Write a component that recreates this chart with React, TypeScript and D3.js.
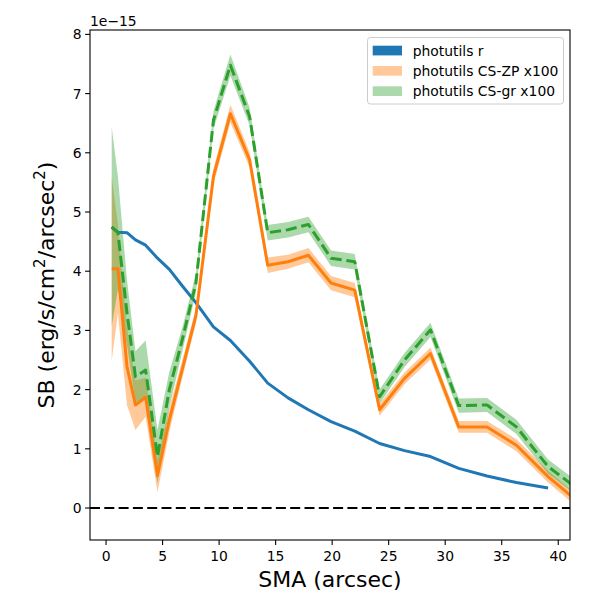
import * as d3 from "d3";

// SMA grid (arcsec) and surface brightness in units of 1e-15
const sma = [0.5, 1.05, 1.85, 2.6, 3.5, 4.55, 5.6, 6.75, 7.95, 9.5, 11.0, 12.7, 14.3, 16.1, 17.9, 19.9, 22.0, 24.2, 26.4, 28.7, 31.2, 33.7, 36.3, 39.1];
const smaCS = [...sma, 42.1];

const sbR = [4.74, 4.66, 4.65, 4.53, 4.44, 4.22, 4.03, 3.75, 3.47, 3.06, 2.83, 2.48, 2.11, 1.86, 1.66, 1.46, 1.30, 1.09, 0.97, 0.87, 0.67, 0.54, 0.43, 0.34];

const sbZP = [4.04, 4.04, 2.39, 1.74, 1.87, 0.55, 1.49, 2.35, 3.25, 5.6, 6.66, 5.88, 4.10, 4.16, 4.27, 3.80, 3.68, 1.66, 2.19, 2.61, 1.37, 1.37, 1.06, 0.53, 0.05];
const errZP = [1.55, 0.75, 0.65, 0.42, 0.33, 0.28, 0.2, 0.15, 0.13, 0.13, 0.15, 0.13, 0.13, 0.12, 0.12, 0.12, 0.12, 0.1, 0.1, 0.1, 0.1, 0.1, 0.1, 0.1, 0.1];

const sbGR = [4.75, 4.65, 3.3, 2.22, 2.33, 0.87, 2.0, 2.85, 3.8, 6.55, 7.48, 6.61, 4.65, 4.70, 4.79, 4.22, 4.16, 1.88, 2.5, 3.01, 1.73, 1.74, 1.37, 0.70, 0.27];
const errGR = [1.68, 0.95, 0.55, 0.43, 0.5, 0.45, 0.3, 0.2, 0.16, 0.15, 0.18, 0.15, 0.13, 0.13, 0.13, 0.13, 0.13, 0.12, 0.12, 0.12, 0.12, 0.12, 0.12, 0.12, 0.12];

const xTicks = [0, 5, 10, 15, 20, 25, 30, 35, 40];
const yTicks = [0, 1, 2, 3, 4, 5, 6, 7, 8];

const legendLabels = ["photutils r", "photutils CS-ZP x100", "photutils CS-gr x100"];

const blue = "#1f77b4";
const orange = "#ff7f0e";
const green = "#2ca02c";

const left = 90, right = 570, top = 30, bottom = 540;
const font = "DejaVu Sans, sans-serif";

export default function App() {
  const x = d3.scaleLinear().domain([-1.42, 41.04]).range([left, right]);
  const y = d3.scaleLinear().domain([-0.54, 8.074]).range([bottom, top]);

  const line = d3.line<[number, number]>().x(d => x(d[0])).y(d => y(d[1]));
  const band = d3.area<[number, number, number]>()
    .x(d => x(d[0]))
    .y0(d => y(d[1] - d[2]))
    .y1(d => y(d[1] + d[2]));

  const rPts = sma.map((s, i) => [s, sbR[i]] as [number, number]);
  const zpPts = smaCS.map((s, i) => [s, sbZP[i]] as [number, number]);
  const grPts = smaCS.map((s, i) => [s, sbGR[i]] as [number, number]);
  const zpBand = smaCS.map((s, i) => [s, sbZP[i], errZP[i]] as [number, number, number]);
  const grBand = smaCS.map((s, i) => [s, sbGR[i], errGR[i]] as [number, number, number]);

  const legendColors = [
    { fill: blue, op: 1 },
    { fill: orange, op: 0.42 },
    { fill: green, op: 0.4 },
  ];

  return (
    <svg width={600} height={600} style={{ position: "absolute", left: 0, top: 0, background: "#fff" }}
      fontFamily={font}>
      <defs>
        <clipPath id="plotArea">
          <rect x={left} y={top} width={right - left} height={bottom - top} />
        </clipPath>
      </defs>

      <g clipPath="url(#plotArea)">
        <path d={band(zpBand) ?? ""} fill={orange} fillOpacity={0.42} stroke="none" />
        <path d={band(grBand) ?? ""} fill={green} fillOpacity={0.4} stroke="none" />
        <line x1={left} x2={right} y1={y(0)} y2={y(0)} stroke="#000" strokeWidth={2} strokeDasharray="10,4.3" />
        <path d={line(rPts) ?? ""} fill="none" stroke={blue} strokeWidth={3} strokeLinejoin="round" />
        <path d={line(zpPts) ?? ""} fill="none" stroke={orange} strokeWidth={3} strokeLinejoin="round" />
        <path d={line(grPts) ?? ""} fill="none" stroke={green} strokeWidth={3} strokeDasharray="11.1,4.8" strokeLinejoin="round" />
      </g>

      <rect x={left} y={top} width={right - left} height={bottom - top} fill="none" stroke="#000" strokeWidth={1.1} />

      {xTicks.map(t => (
        <g key={"x" + t}>
          <line x1={x(t)} x2={x(t)} y1={bottom} y2={bottom + 4.9} stroke="#000" strokeWidth={1.1} />
          <text x={x(t)} y={bottom + 21} fontSize={13.9} textAnchor="middle" fill="#000">{t}</text>
        </g>
      ))}
      {yTicks.map(t => (
        <g key={"y" + t}>
          <line x1={left - 4.9} x2={left} y1={y(t)} y2={y(t)} stroke="#000" strokeWidth={1.1} />
          <text x={left - 8.5} y={y(t)} dy="0.36em" fontSize={13.9} textAnchor="end" fill="#000">{t}</text>
        </g>
      ))}

      <text x={left} y={26} fontSize={13.9} fill="#000">1e−15</text>

      <text x={(left + right) / 2} y={587} fontSize={22} textAnchor="middle" fill="#000">SMA (arcsec)</text>
      <text transform={`translate(54,${(top + bottom) / 2}) rotate(-90)`} fontSize={22} textAnchor="middle" fill="#000">
        SB (erg/s/cm<tspan baselineShift="super" fontSize={15}>2</tspan>/arcsec<tspan baselineShift="super" fontSize={15}>2</tspan>)
      </text>

      <g>
        <rect x={367.5} y={37.5} width={196} height={66.5} rx={3} fill="#fff" fillOpacity={0.8} stroke="#ccc" strokeWidth={1} />
        {legendLabels.map((lab, i) => (
          <g key={lab}>
            <rect x={372.7} y={45.7 + i * 20.3} width={29.3} height={9.7} fill={legendColors[i].fill} fillOpacity={legendColors[i].op} />
            <text x={412.7} y={50.5 + i * 20.3} dy="0.36em" fontSize={13.9} fill="#000">{lab}</text>
          </g>
        ))}
      </g>
    </svg>
  );
}
